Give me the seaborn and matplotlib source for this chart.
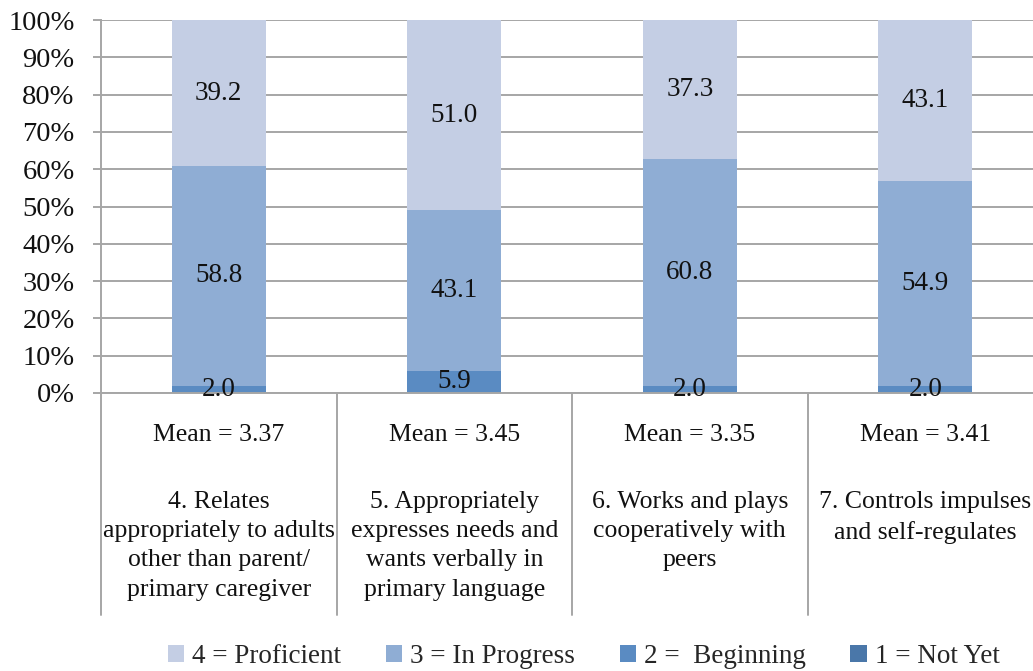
import numpy as np
import pandas as pd
import matplotlib
matplotlib.use("Agg")
import matplotlib.pyplot as plt
import seaborn as sns
from matplotlib.patches import Patch

# Survey items and rating distributions (percent of respondents)
items = [
    "4. Relates\nappropriately to adults\nother than parent/\nprimary caregiver",
    "5. Appropriately\nexpresses needs and\nwants verbally in\nprimary language",
    "6. Works and plays\ncooperatively with\npeers",
    "7. Controls impulses\nand self-regulates",
]
means = ["Mean = 3.37", "Mean = 3.45", "Mean = 3.35", "Mean = 3.41"]
not_yet = [0.0, 0.0, 0.0, 0.0]
beginning = [2.0, 5.9, 2.0, 2.0]
in_progress = [58.8, 43.1, 60.8, 54.9]
proficient = [39.2, 51.0, 37.3, 43.1]

series_names = ["1 = Not Yet", "2 =  Beginning", "3 = In Progress", "4 = Proficient"]
series_vals = [not_yet, beginning, in_progress, proficient]
colors = ["#4A77A9", "#5A8BC2", "#8FADD4", "#C4CEE4"]

sns.set_theme(style="white")
plt.rcParams["font.family"] = ["Liberation Serif", "DejaVu Serif"]

fig = plt.figure(figsize=(10.33, 6.71), dpi=100)
ax = fig.add_axes([101 / 1033, 1 - 393 / 671, 942 / 1033, 373 / 671])

keys = [f"c{i}" for i in range(len(items))]
vals = np.array(series_vals)
cum = np.cumsum(vals, axis=0)

# Draw cumulative totals from the top layer down so each layer overlays the one above
for k in range(len(series_names) - 1, -1, -1):
    df = pd.DataFrame({"item": keys, "value": cum[k]})
    sns.barplot(data=df, x="item", y="value", color=colors[k], saturation=1,
                width=0.4, ax=ax, linewidth=0, zorder=2)

# Segment value labels
for k in range(len(series_names)):
    for i in range(len(items)):
        v = vals[k][i]
        if v <= 0:
            continue
        center = cum[k][i] - v / 2
        ax.text(i, center, f"{v:.1f}", ha="center", va="center",
                fontsize=19.5, color="#111111", zorder=5)

ax.set_ylim(0, 100)
ax.set_xlim(-0.5, len(items) - 0.5)
ax.set_yticks(np.arange(0, 101, 10))
ax.set_yticklabels([f"{t}%" for t in range(0, 101, 10)], fontsize=20.5, color="#111111")
ax.set_xticks([])
ax.set_xlabel("")
ax.set_ylabel("")
ax.yaxis.grid(True, color="#A6A6A6", linewidth=1.4, zorder=0)
ax.set_axisbelow(True)
ax.tick_params(axis="y", which="both", left=True, length=6, width=1.4,
               color="#A6A6A6", pad=13)
for side in ["top", "right"]:
    ax.spines[side].set_visible(False)
ax.spines["left"].set_color("#A6A6A6")
ax.spines["left"].set_linewidth(1.4)
ax.spines["bottom"].set_color("#A6A6A6")
ax.spines["bottom"].set_linewidth(1.4)

# Category table below the axis
tr = ax.get_xaxis_transform()
for xb in np.arange(-0.5, len(items) - 0.5, 1.0):
    ax.plot([xb, xb], [0, -0.595], transform=tr, color="#A6A6A6",
            linewidth=1.4, clip_on=False)
for i in range(len(items)):
    ax.text(i, -0.113, means[i], transform=tr, ha="center", va="center",
            fontsize=18.5, color="#111111")
    ax.text(i, -0.263, items[i], transform=tr, ha="center", va="top",
            fontsize=18.5, color="#111111", linespacing=1.42)

handles = [Patch(facecolor=colors[k], edgecolor="none") for k in [3, 2, 1, 0]]
labels = [series_names[k] for k in [3, 2, 1, 0]]
fig.legend(handles, labels, loc="center", bbox_to_anchor=(0.565, 0.022), ncol=4,
           frameon=False, fontsize=19.5, handlelength=0.6, handleheight=0.6,
           handletextpad=0.3, columnspacing=1.65)

fig.savefig("out.png", dpi=100)
